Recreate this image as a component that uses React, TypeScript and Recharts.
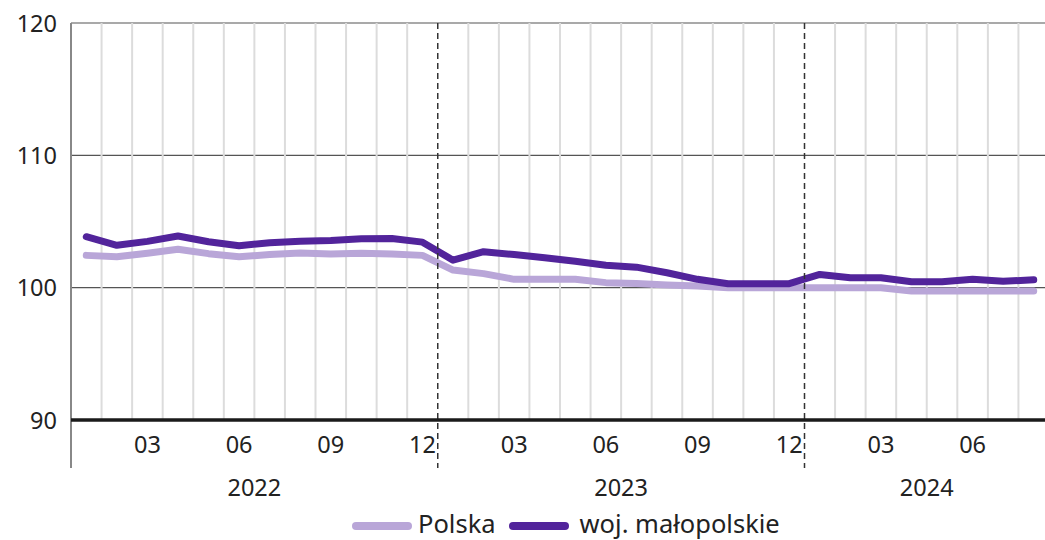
import React from 'react';
import { LineChart, Line, XAxis, YAxis, CartesianGrid, ReferenceLine, Legend } from 'recharts';

const PERIODS = [
  '2022-01', '2022-02', '2022-03', '2022-04', '2022-05', '2022-06',
  '2022-07', '2022-08', '2022-09', '2022-10', '2022-11', '2022-12',
  '2023-01', '2023-02', '2023-03', '2023-04', '2023-05', '2023-06',
  '2023-07', '2023-08', '2023-09', '2023-10', '2023-11', '2023-12',
  '2024-01', '2024-02', '2024-03', '2024-04', '2024-05', '2024-06',
  '2024-07', '2024-08',
];

const POLSKA = [
  102.44, 102.34, 102.6, 102.9, 102.57, 102.34, 102.5, 102.62, 102.54, 102.6, 102.54, 102.44,
  101.33, 101.06, 100.63, 100.63, 100.63, 100.38, 100.32, 100.2, 100.12, 100.0, 100.0, 100.0,
  100.0, 100.0, 100.0, 99.75, 99.75, 99.75, 99.75, 99.75,
];

const MALOPOLSKIE = [
  103.85, 103.2, 103.5, 103.9, 103.47, 103.17, 103.4, 103.5, 103.57, 103.7, 103.72, 103.44,
  102.08, 102.72, 102.5, 102.26, 102.0, 101.7, 101.55, 101.13, 100.63, 100.3, 100.3, 100.3,
  101.0, 100.75, 100.75, 100.45, 100.45, 100.63, 100.48, 100.6,
];

const Y_TICKS = [90, 100, 110, 120];
const MONTH_TICK_LABELS = ['03', '06', '09', '12'];
const SERIES = [
  { key: 'polska', name: 'Polska', color: '#b9a6d8' },
  { key: 'malo', name: 'woj. małopolskie', color: '#52249b' },
];

const FONT = '"Noto Sans", "Open Sans", sans-serif';
const TEXT = '#222';

const data = PERIODS.map((p, i) => ({ idx: i + 1, period: p, polska: POLSKA[i], malo: MALOPOLSKIE[i] }));
const monthTicks = data.filter((d) => MONTH_TICK_LABELS.includes(d.period.slice(5))).map((d) => d.idx);
const years = Array.from(new Set(PERIODS.map((p) => p.slice(0, 4))));
const yearTicks = years.map((y) => {
  const ids = data.filter((d) => d.period.startsWith(y)).map((d) => d.idx);
  return (ids[0] + ids[ids.length - 1]) / 2;
});
const yearByTick: Record<string, string> = {};
yearTicks.forEach((t, i) => { yearByTick[String(t)] = years[i]; });
const boundaries = data.slice(1).filter((d) => d.period.endsWith('-01')).map((d) => d.idx - 0.5);
const gridXs = data.map((d) => d.idx + 0.5).filter((x) => !boundaries.includes(x));
const X_DOMAIN = [0.5, PERIODS.length + 0.5];

const YTick = (props: any) => {
  const { x, y, payload } = props;
  return (
    <text x={x} y={y} dy={8.5} textAnchor="end" fill={TEXT} fontSize={23.5} fontFamily={FONT}>
      {payload.value}
    </text>
  );
};

const MonthTick = (props: any) => {
  const { x, y, payload } = props;
  const p = PERIODS[Math.round(payload.value) - 1];
  return (
    <text x={x} y={y} dy={33} textAnchor="middle" fill={TEXT} fontSize={23.5} fontFamily={FONT}>
      {p ? p.slice(5) : ''}
    </text>
  );
};

const YearTick = (props: any) => {
  const { x, y, payload } = props;
  return (
    <text x={x} y={y} dy={36} textAnchor="middle" fill={TEXT} fontSize={23.5} fontFamily={FONT}>
      {yearByTick[String(payload.value)]}
    </text>
  );
};

const extendedLine = (color: string, width: number, dash?: string) => (p: any) => {
  const top = Math.min(p.y1, p.y2);
  const bottom = Math.max(p.y1, p.y2);
  return (
    <line x1={p.x1} x2={p.x2} y1={top} y2={bottom + 48} stroke={color} strokeWidth={width} strokeDasharray={dash} />
  );
};

const renderLegend = () => (
  <div
    style={{
      height: 40,
      boxSizing: 'border-box',
      paddingTop: 6,
      paddingLeft: 352,
      display: 'flex',
      alignItems: 'center',
      fontFamily: FONT,
      fontSize: 25.5,
      color: TEXT,
      whiteSpace: 'nowrap',
    }}
  >
    {SERIES.map((s, i) => (
      <div key={s.key} style={{ display: 'flex', alignItems: 'center', marginLeft: i === 0 ? 0 : 13 }}>
        <svg width={60} height={10} style={{ marginRight: i === 0 ? 6 : 11, position: 'relative', top: 3 }}>
          <line x1={4} x2={56} y1={5} y2={5} stroke={s.color} strokeWidth={8} strokeLinecap="round" />
        </svg>
        <span style={{ lineHeight: '24px' }}>{s.name}</span>
      </div>
    ))}
  </div>
);

export default function App() {
  return (
    <div style={{ position: 'absolute', left: 0, top: 0, width: 1045, height: 540, overflow: 'hidden', background: '#fff' }}>
      <LineChart width={1049} height={540} data={data} margin={{ top: 23, right: 0, bottom: 0, left: 0 }}>
        <CartesianGrid xAxisId="m" vertical={false} stroke="#555" strokeWidth={1.2} />
        <XAxis
          xAxisId="m"
          type="number"
          dataKey="idx"
          domain={X_DOMAIN}
          ticks={monthTicks}
          interval={0}
          height={40}
          axisLine={{ stroke: '#1a1a1a', strokeWidth: 3.5 }}
          tickLine={false}
          tickSize={0}
          tickMargin={0}
          tick={<MonthTick />}
          allowDataOverflow
        />
        <XAxis
          xAxisId="y"
          type="number"
          dataKey="idx"
          domain={X_DOMAIN}
          ticks={yearTicks}
          interval={0}
          height={40}
          axisLine={false}
          tickLine={false}
          tickSize={0}
          tickMargin={0}
          tick={<YearTick />}
          allowDataOverflow
        />
        <YAxis
          domain={[90, 120]}
          ticks={Y_TICKS}
          width={71}
          axisLine={false}
          tickLine={false}
          tickSize={0}
          tickMargin={14}
          tick={<YTick />}
          interval={0}
        />
        {gridXs.map((x) => (
          <ReferenceLine key={'g' + x} xAxisId="m" x={x} stroke="#dcdcdc" strokeWidth={2} ifOverflow="extendDomain" />
        ))}
        <Line xAxisId="m" type="linear" dataKey="polska" name="Polska" stroke={SERIES[0].color} strokeWidth={7} dot={false} activeDot={false} isAnimationActive={false} strokeLinejoin="round" strokeLinecap="round" />
        <Line xAxisId="m" type="linear" dataKey="malo" name="woj. małopolskie" stroke={SERIES[1].color} strokeWidth={7} dot={false} activeDot={false} isAnimationActive={false} strokeLinejoin="round" strokeLinecap="round" />
        {boundaries.map((x) => (
          <ReferenceLine key={'b' + x} xAxisId="m" x={x} shape={extendedLine('#333', 1.5, '6 4')} />
        ))}
        <ReferenceLine xAxisId="m" x={X_DOMAIN[0]} shape={extendedLine('#888', 2)} />
        <Legend verticalAlign="bottom" content={renderLegend} wrapperStyle={{ left: 0, width: 1049 }} />
      </LineChart>
    </div>
  );
}
